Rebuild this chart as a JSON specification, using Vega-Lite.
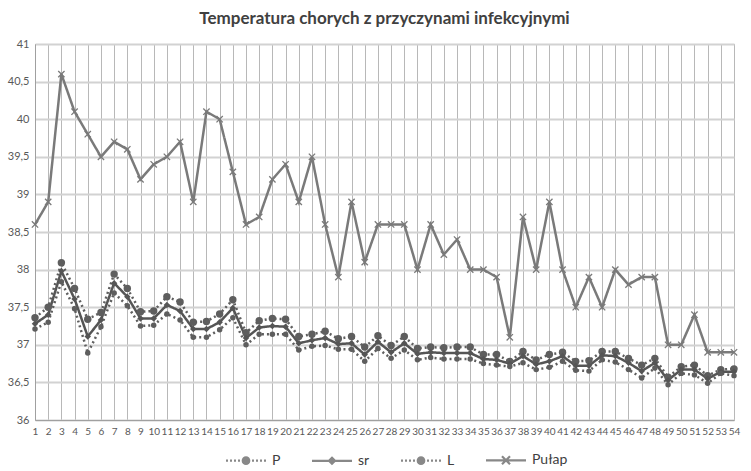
{
  "$schema": "https://vega.github.io/schema/vega-lite/v6.json",
  "width": 699,
  "height": 376,
  "autosize": {"type": "none"},
  "padding": {"left": 35, "top": 44, "right": 17, "bottom": 51},
  "background": "white",
  "title": {"text": "Temperatura chorych z przyczynami infekcyjnymi", "font": "Lato", "fontSize": 17, "fontWeight": "bold", "color": "#404040", "offset": 10, "anchor": "middle"},
  "config": {
    "view": {"stroke": "#b8b8b8", "strokeWidth": 1},
    "axis": {"labelFont": "Lato", "labelColor": "#595959", "labelFontSize": 11, "ticks": false, "domainColor": "#a0a0a0", "title": null}
  },
  "data": {"values": [
    {"n":1,"P":37.36,"sr":37.28,"L":37.21,"Pułap":38.6},
    {"n":2,"P":37.50,"sr":37.40,"L":37.30,"Pułap":38.9},
    {"n":3,"P":38.09,"sr":37.98,"L":37.84,"Pułap":40.6},
    {"n":4,"P":37.75,"sr":37.61,"L":37.48,"Pułap":40.1},
    {"n":5,"P":37.34,"sr":37.11,"L":36.89,"Pułap":39.8},
    {"n":6,"P":37.43,"sr":37.33,"L":37.24,"Pułap":39.5},
    {"n":7,"P":37.94,"sr":37.82,"L":37.69,"Pułap":39.7},
    {"n":8,"P":37.75,"sr":37.64,"L":37.52,"Pułap":39.6},
    {"n":9,"P":37.44,"sr":37.35,"L":37.25,"Pułap":39.2},
    {"n":10,"P":37.45,"sr":37.35,"L":37.26,"Pułap":39.4},
    {"n":11,"P":37.64,"sr":37.53,"L":37.41,"Pułap":39.5},
    {"n":12,"P":37.57,"sr":37.45,"L":37.33,"Pułap":39.7},
    {"n":13,"P":37.30,"sr":37.21,"L":37.10,"Pułap":38.9},
    {"n":14,"P":37.31,"sr":37.21,"L":37.10,"Pułap":40.1},
    {"n":15,"P":37.41,"sr":37.30,"L":37.20,"Pułap":40.0},
    {"n":16,"P":37.60,"sr":37.49,"L":37.36,"Pułap":39.3},
    {"n":17,"P":37.16,"sr":37.09,"L":37.00,"Pułap":38.6},
    {"n":18,"P":37.32,"sr":37.23,"L":37.14,"Pułap":38.7},
    {"n":19,"P":37.35,"sr":37.25,"L":37.14,"Pułap":39.2},
    {"n":20,"P":37.34,"sr":37.24,"L":37.14,"Pułap":39.4},
    {"n":21,"P":37.11,"sr":37.02,"L":36.93,"Pułap":38.9},
    {"n":22,"P":37.14,"sr":37.06,"L":36.98,"Pułap":39.5},
    {"n":23,"P":37.18,"sr":37.09,"L":36.99,"Pułap":38.6},
    {"n":24,"P":37.08,"sr":37.01,"L":36.94,"Pułap":37.9},
    {"n":25,"P":37.11,"sr":37.02,"L":36.94,"Pułap":38.9},
    {"n":26,"P":36.97,"sr":36.87,"L":36.78,"Pułap":38.1},
    {"n":27,"P":37.12,"sr":37.04,"L":36.95,"Pułap":38.6},
    {"n":28,"P":36.99,"sr":36.90,"L":36.82,"Pułap":38.6},
    {"n":29,"P":37.11,"sr":37.02,"L":36.93,"Pułap":38.6},
    {"n":30,"P":36.95,"sr":36.88,"L":36.80,"Pułap":38.0},
    {"n":31,"P":36.97,"sr":36.90,"L":36.83,"Pułap":38.6},
    {"n":32,"P":36.96,"sr":36.89,"L":36.81,"Pułap":38.2},
    {"n":33,"P":36.97,"sr":36.89,"L":36.81,"Pułap":38.4},
    {"n":34,"P":36.97,"sr":36.89,"L":36.81,"Pułap":38.0},
    {"n":35,"P":36.87,"sr":36.81,"L":36.75,"Pułap":38.0},
    {"n":36,"P":36.87,"sr":36.80,"L":36.73,"Pułap":37.9},
    {"n":37,"P":36.78,"sr":36.75,"L":36.71,"Pułap":37.1},
    {"n":38,"P":36.91,"sr":36.85,"L":36.76,"Pułap":38.7},
    {"n":39,"P":36.80,"sr":36.74,"L":36.67,"Pułap":38.0},
    {"n":40,"P":36.87,"sr":36.78,"L":36.70,"Pułap":38.9},
    {"n":41,"P":36.90,"sr":36.85,"L":36.78,"Pułap":38.0},
    {"n":42,"P":36.78,"sr":36.72,"L":36.66,"Pułap":37.5},
    {"n":43,"P":36.79,"sr":36.72,"L":36.65,"Pułap":37.9},
    {"n":44,"P":36.91,"sr":36.86,"L":36.80,"Pułap":37.5},
    {"n":45,"P":36.91,"sr":36.85,"L":36.77,"Pułap":38.0},
    {"n":46,"P":36.82,"sr":36.76,"L":36.67,"Pułap":37.8},
    {"n":47,"P":36.73,"sr":36.65,"L":36.56,"Pułap":37.9},
    {"n":48,"P":36.82,"sr":36.76,"L":36.69,"Pułap":37.9},
    {"n":49,"P":36.57,"sr":36.53,"L":36.47,"Pułap":37.0},
    {"n":50,"P":36.71,"sr":36.67,"L":36.62,"Pułap":37.0},
    {"n":51,"P":36.73,"sr":36.67,"L":36.60,"Pułap":37.4},
    {"n":52,"P":36.59,"sr":36.55,"L":36.49,"Pułap":36.9},
    {"n":53,"P":36.67,"sr":36.64,"L":36.62,"Pułap":36.9},
    {"n":54,"P":36.68,"sr":36.64,"L":36.59,"Pułap":36.9}
  ]},
  "transform": [{"fold": ["P", "sr", "L", "Pułap"], "as": ["s", "v"]}],
  "encoding": {
    "x": {"field": "n", "type": "quantitative", "scale": {"domain": [1, 54], "nice": false, "zero": false},
      "axis": {"values": [1,2,3,4,5,6,7,8,9,10,11,12,13,14,15,16,17,18,19,20,21,22,23,24,25,26,27,28,29,30,31,32,33,34,35,36,37,38,39,40,41,42,43,44,45,46,47,48,49,50,51,52,53,54], "format": "d", "grid": true, "gridColor": "#b8b8b8", "gridWidth": 1, "labelPadding": 6, "labelOverlap": false, "labelFlush": false, "labelFontSize": 10}},
    "y": {"field": "v", "type": "quantitative", "scale": {"domain": [36, 41], "nice": false, "zero": false},
      "axis": {"values": [36,36.5,37,37.5,38,38.5,39,39.5,40,40.5,41], "labelExpr": "replace(toString(datum.value), '.', ',')", "grid": true, "gridColor": "#d2d2d2", "gridWidth": 2, "labelPadding": 6}},
    "color": {"field": "s", "type": "nominal", "scale": {"domain": ["P", "sr", "L", "Pułap"], "range": ["#5e5e5e", "#555555", "#5e5e5e", "#7a7a7a"]}, "legend": null}
  },
  "layer": [
    {
      "mark": {"type": "line", "strokeWidth": 2.5},
      "encoding": {
        "strokeDash": {"field": "s", "type": "nominal", "scale": {"domain": ["P", "sr", "L", "Pułap"], "range": [[2, 3], [1, 0], [2, 3], [1, 0]]}, "legend": null},
        "strokeWidth": {"field": "s", "type": "nominal", "scale": {"domain": ["P", "sr", "L", "Pułap"], "range": [2, 2.8, 2, 2.5]}, "legend": null}
      }
    },
    {
      "transform": [{"filter": "datum.s !== 'Pułap'"}],
      "mark": {"type": "point", "filled": true, "opacity": 1},
      "encoding": {
        "shape": {"field": "s", "type": "nominal", "scale": {"domain": ["P", "sr", "L"], "range": ["circle", "diamond", "circle"]}, "legend": null},
        "size": {"field": "s", "type": "nominal", "scale": {"domain": ["P", "sr", "L"], "range": [55, 30, 55]}, "legend": null}
      }
    },
    {
      "transform": [{"filter": "datum.s === 'Pułap'"}],
      "mark": {"type": "point", "filled": false, "shape": "M-1,-1L1,1M-1,1L1,-1", "size": 40, "strokeWidth": 1.3, "opacity": 1}
    },
    {
      "transform": [{"filter": "datum.n === 1"}],
      "mark": {"type": "point", "filled": false, "opacity": 0, "strokeWidth": 2.2},
      "encoding": {
        "shape": {"field": "s", "type": "nominal", "scale": {"domain": ["P", "sr", "L", "Pułap"], "range": [
          "M-4,0H-3.6M-3.2,0H-2.8M-2.4,0H-2M-1.6,0H-1.2M1.2,0H1.6M2,0H2.4M2.8,0H3.2M3.6,0H4M-0.65,0A0.65,0.65 0 1,0 0.65,0A0.65,0.65 0 1,0 -0.65,0ZM-0.28,0A0.28,0.28 0 1,0 0.28,0A0.28,0.28 0 1,0 -0.28,0ZM-0.06,0H0.06",
          "M-4,0H4M0,-0.6L0.6,0L0,0.6L-0.6,0ZM0,-0.25L0.25,0L0,0.25L-0.25,0Z",
          "M-4,0H-3.6M-3.2,0H-2.8M-2.4,0H-2M-1.6,0H-1.2M1.2,0H1.6M2,0H2.4M2.8,0H3.2M3.6,0H4M-0.65,0A0.65,0.65 0 1,0 0.65,0A0.65,0.65 0 1,0 -0.65,0ZM-0.28,0A0.28,0.28 0 1,0 0.28,0A0.28,0.28 0 1,0 -0.28,0ZM-0.06,0H0.06",
          "M-4,0H4M-0.8,-0.8L0.8,0.8M-0.8,0.8L0.8,-0.8"
        ]}, "legend": {"title": null, "orient": "none", "legendX": 204, "legendY": 409, "direction": "horizontal", "symbolSize": 100, "symbolOpacity": 1, "symbolStrokeWidth": 2.2, "labelFont": "Lato", "labelFontSize": 14, "labelColor": "#404040", "labelOffset": 19, "columnPadding": 26}},
        "color": {"field": "s", "type": "nominal", "legend": {"title": null, "orient": "none", "legendX": 204, "legendY": 409, "direction": "horizontal", "symbolSize": 100, "symbolOpacity": 1, "symbolStrokeWidth": 2.2, "labelFont": "Lato", "labelFontSize": 14, "labelColor": "#404040", "labelOffset": 19, "columnPadding": 26}}
      }
    }
  ],
  "resolve": {"scale": {"shape": "independent", "size": "independent"}}
}
